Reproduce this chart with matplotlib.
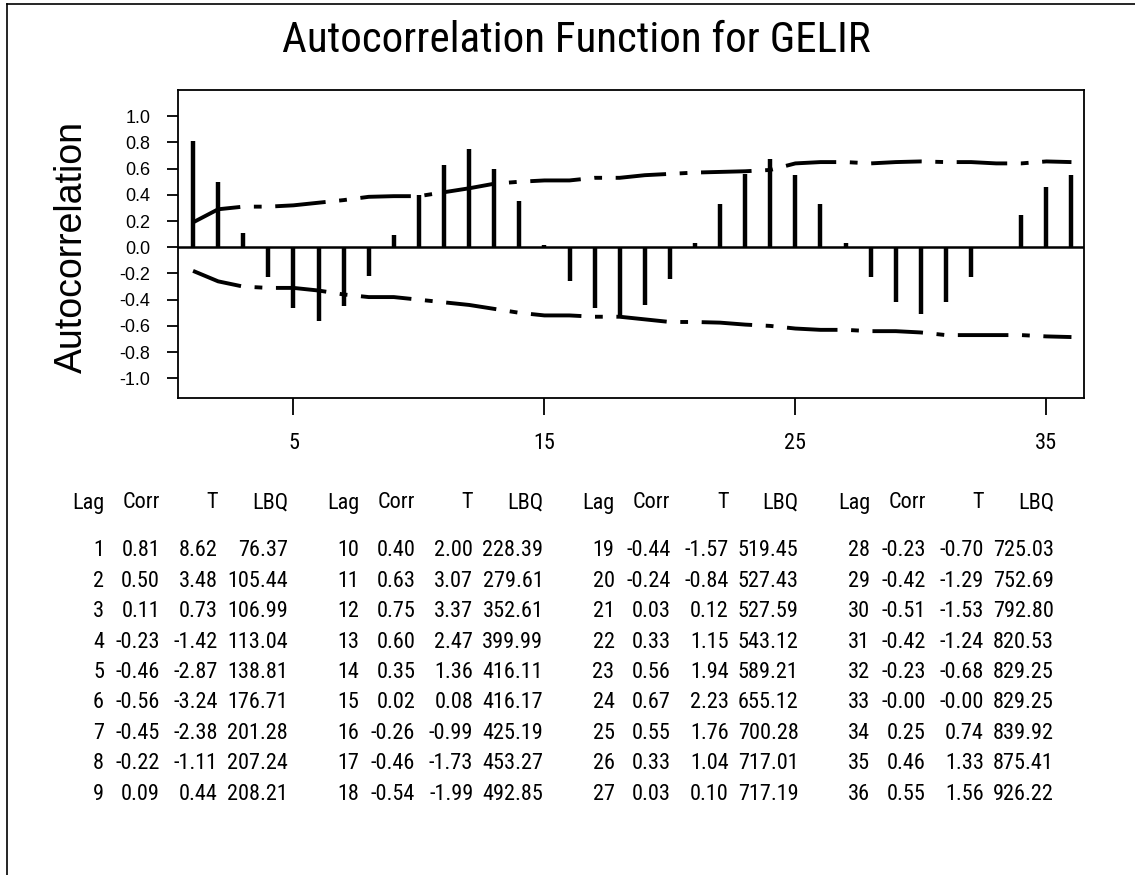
import matplotlib
matplotlib.use("Agg")
import matplotlib.pyplot as plt
from matplotlib.lines import Line2D

# condensed face for the title, x ticks and table (the print is very tight)
NARROW = ["Roboto Condensed", "Archivo Narrow", "DejaVu Sans"]
REGULAR = ["Liberation Sans", "DejaVu Sans"]

lags = list(range(1, 37))
corr = [0.81, 0.50, 0.11, -0.23, -0.46, -0.56, -0.45, -0.22, 0.09,
        0.40, 0.63, 0.75, 0.60, 0.35, 0.02, -0.26, -0.46, -0.54,
        -0.44, -0.24, 0.03, 0.33, 0.56, 0.67, 0.55, 0.33, 0.03,
        -0.23, -0.42, -0.51, -0.42, -0.23, -0.00, 0.25, 0.46, 0.55]
t_vals = [8.62, 3.48, 0.73, -1.42, -2.87, -3.24, -2.38, -1.11, 0.44,
          2.00, 3.07, 3.37, 2.47, 1.36, 0.08, -0.99, -1.73, -1.99,
          -1.57, -0.84, 0.12, 1.15, 1.94, 2.23, 1.76, 1.04, 0.10,
          -0.70, -1.29, -1.53, -1.24, -0.68, -0.00, 0.74, 1.33, 1.56]
lbq = [76.37, 105.44, 106.99, 113.04, 138.81, 176.71, 201.28, 207.24, 208.21,
       228.39, 279.61, 352.61, 399.99, 416.11, 416.17, 425.19, 453.27, 492.85,
       519.45, 527.43, 527.59, 543.12, 589.21, 655.12, 700.28, 717.01, 717.19,
       725.03, 752.69, 792.80, 820.53, 829.25, 829.25, 839.92, 875.41, 926.22]

# confidence limits
upper_lim = [0.19, 0.29, 0.31, 0.31, 0.32, 0.34, 0.36, 0.385, 0.39,
             0.39, 0.42, 0.45, 0.485, 0.50, 0.51, 0.51, 0.53, 0.53,
             0.55, 0.56, 0.57, 0.575, 0.58, 0.59, 0.64, 0.65, 0.65,
             0.64, 0.65, 0.655, 0.65, 0.65, 0.64, 0.64, 0.655, 0.65]
lower_lim = [-0.18, -0.26, -0.30, -0.31, -0.31, -0.33, -0.36, -0.38, -0.38,
             -0.40, -0.42, -0.44, -0.47, -0.50, -0.52, -0.52, -0.53, -0.53,
             -0.55, -0.57, -0.57, -0.575, -0.59, -0.60, -0.62, -0.63, -0.63,
             -0.64, -0.64, -0.65, -0.67, -0.67, -0.67, -0.67, -0.68, -0.685]

yticks = [1.0, 0.8, 0.6, 0.4, 0.2, 0.0, -0.2, -0.4, -0.6, -0.8, -1.0]
xticks = [5, 15, 25, 35]

W, H = 1135, 875
fig = plt.figure(figsize=(W / 100, H / 100), dpi=100)

def fx(px):
    return px / W

def fy(py):
    return 1 - py / H

# outer frame, only left and top edges show in the scan
fig.add_artist(Line2D([fx(7), fx(7)], [fy(4), 0], color="black", lw=1.2))
fig.add_artist(Line2D([fx(7), 1], [fy(4), fy(4)], color="black", lw=1.2))

fig.text(fx(576), fy(40), "Autocorrelation Function for GELIR",
         ha="center", va="center", fontsize=31, family=NARROW)

ax = fig.add_axes([fx(178), fy(398), fx(1084) - fx(178), fy(90) - fy(398)])
ax.vlines(lags, 0, corr, color="black", lw=3.2)
ax.axhline(0, color="black", lw=1.8)
dash = (0, (13, 3.5, 2, 3.5))
ax.plot(lags, upper_lim, color="black", lw=2.8, ls=dash)
ax.plot(lags, lower_lim, color="black", lw=2.8, ls=dash)

ax.set_xlim(0.4, 36.5)
ax.set_ylim(-1.15, 1.20)
ax.set_yticks(yticks)
ax.set_yticklabels(["%.1f" % v for v in yticks], family=REGULAR, fontsize=13)
ax.set_xticks(xticks)
ax.set_xticklabels([str(v) for v in xticks], family=NARROW, fontsize=16)
ax.tick_params(axis="y", length=8, width=1.3, pad=12)
ax.tick_params(axis="x", length=12, width=1.3, pad=13)
for s in ax.spines.values():
    s.set_linewidth(1.3)
ax.set_ylabel("Autocorrelation", family=REGULAR, fontsize=27)
ax.yaxis.set_label_coords(-0.097, 0.49)

# table of values below the plot, four blocks of nine lags
col_right = [104, 160, 218, 288]
block_step = 255.3
header_y = 503
row0_y = 551
row_step = 30.4
headers = ["Lag", "Corr", "T", "LBQ"]

for b in range(4):
    off = b * block_step
    for c, h in enumerate(headers):
        fig.text(fx(col_right[c] + off), fy(header_y), h, ha="right",
                 va="center", fontsize=16, family=NARROW)
    for r in range(9):
        i = b * 9 + r
        cells = [str(lags[i]), "%.2f" % corr[i], "%.2f" % t_vals[i], "%.2f" % lbq[i]]
        for c, txt in enumerate(cells):
            fig.text(fx(col_right[c] + off), fy(row0_y + r * row_step), txt,
                     ha="right", va="center", fontsize=16, family=NARROW)

fig.savefig("out.png", dpi=100)
